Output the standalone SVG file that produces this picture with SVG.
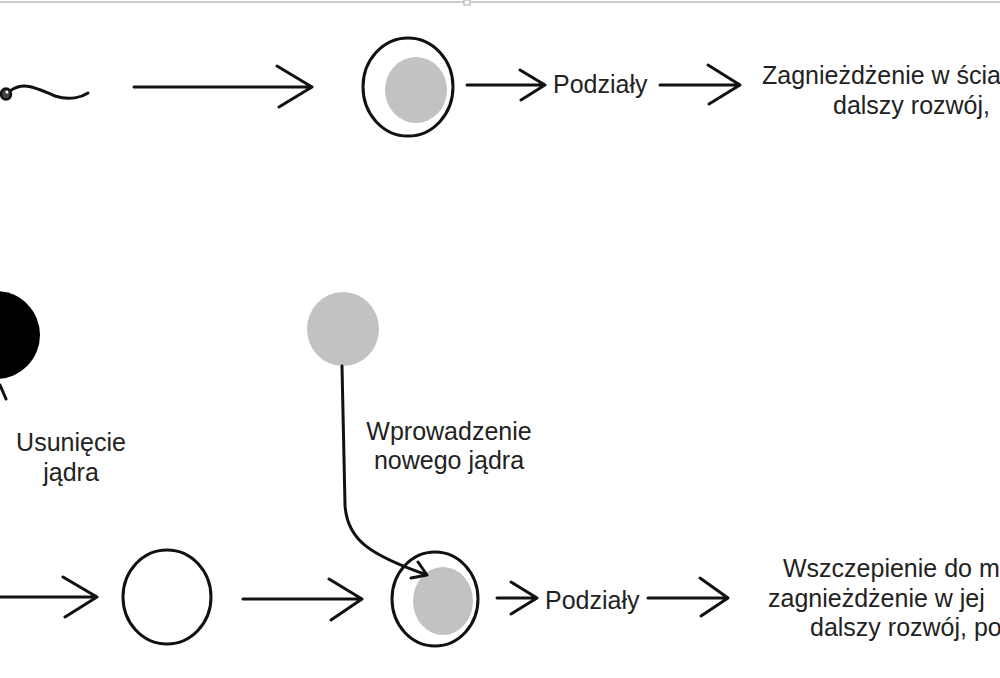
<svg xmlns="http://www.w3.org/2000/svg" width="1000" height="678" viewBox="0 0 1000 678">
<style>
.ln{stroke:#111;stroke-width:3;fill:none;stroke-linecap:round;stroke-linejoin:round}
.t{font-family:"Liberation Sans",Arial,sans-serif;font-size:25px;fill:#222}
.nuc{fill:#c2c2c2}
</style>
<rect width="1000" height="678" fill="#fff"/>
<line x1="0" y1="2" x2="1000" y2="2" stroke="#bbb" stroke-width="1.5"/>
<rect x="464" y="0" width="6" height="5" fill="#fff" stroke="#aaa"/>
<g id="sperm">
<ellipse cx="6" cy="94" rx="5" ry="5.5" fill="#444" stroke="#111" stroke-width="2.5"/>
<circle cx="7" cy="92" r="1.5" fill="#fff"/>
<path class="ln" stroke-width="2.5" d="M10 91 C25 80 40 90 55 96 C70 101 82 97 88 93"/>
</g>
<g id="cell1"><ellipse cx="408" cy="87" rx="45" ry="49" fill="#fff" stroke="#111" stroke-width="3"/><ellipse class="nuc" cx="416" cy="90" rx="31" ry="33"/></g>
<g id="podzialy1"><text class="t" x="553" y="93">Podziały</text></g>
<g id="result1"><text class="t" x="762" y="84">Zagnieżdżenie w ścia</text><text class="t" x="833" y="114">dalszy rozwój,</text></g>
<g id="blacknucleus"><circle cx="-4" cy="335" r="44" fill="#000"/></g>
<g id="usuniecie"><text class="t" x="71" y="451" text-anchor="middle">Usunięcie</text><text class="t" x="71" y="481" text-anchor="middle">jądra</text></g>
<g id="greynucleus"><ellipse class="nuc" cx="343" cy="329" rx="36" ry="37"/></g>
<g id="wprowadzenie"><text class="t" x="449" y="440" text-anchor="middle">Wprowadzenie</text><text class="t" x="449" y="469" text-anchor="middle">nowego jądra</text></g>
<g id="emptycell"><ellipse cx="167" cy="597" rx="44" ry="47" fill="#fff" stroke="#111" stroke-width="3"/></g>
<g id="cell2"><ellipse cx="435" cy="599" rx="43" ry="47" fill="#fff" stroke="#111" stroke-width="3"/><ellipse class="nuc" cx="443" cy="601" rx="30" ry="34"/></g>
<g id="podzialy2"><text class="t" x="545" y="609">Podziały</text></g>
<g id="result2"><text class="t" x="783" y="577">Wszczepienie do m</text><text class="t" x="768" y="607">zagnieżdżenie w jej</text><text class="t" x="810" y="636">dalszy rozwój, po</text></g>
<g id="connectors">
<path class="ln" d="M134 87 H310 M277 66 L312 87 L279 107"/>
<path class="ln" d="M467 85 H545 M520 70 L545 85 L521 100"/>
<path class="ln" d="M660 85 H740 M708 65 L740 85 L709 104"/>
<path class="ln" stroke-width="2" d="M0 385 L6 399"/>
<path class="ln" stroke-width="2" d="M342 366 L345 505 C347 540 370 555 427 575 M418 562 L427 575 M411 578 L427 575"/>
<path class="ln" d="M0 597 H97 M63 577 L97 597 L65 617"/>
<path class="ln" d="M243 599 H362 M329 579 L362 599 L331 620"/>
<path class="ln" d="M497 598 H537 M511 582 L537 598 L511 614"/>
<path class="ln" d="M648 598 H728 M700 578 L728 598 L701 616"/>
</g>
</svg>
